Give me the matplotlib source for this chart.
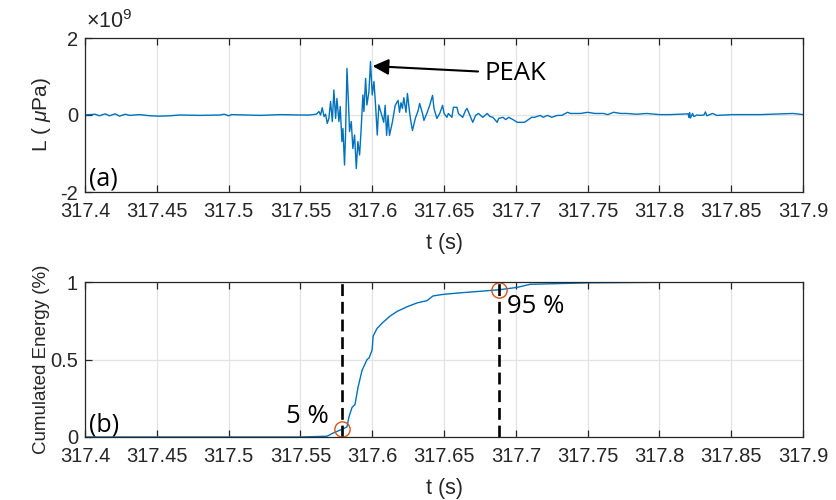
import numpy as np
import matplotlib
matplotlib.use('Agg')
import matplotlib.pyplot as plt
from matplotlib.ticker import FuncFormatter

plt.rcParams['font.family'] = ['Liberation Sans', 'DejaVu Sans']
plt.rcParams['mathtext.fontset'] = 'custom'
plt.rcParams['mathtext.rm'] = 'Liberation Sans'
plt.rcParams['mathtext.it'] = 'Liberation Sans:italic'

# pressure trace (a), amplitude in units of 1e9 uPa
t_sig = [317.400, 317.407, 317.410, 317.414, 317.417, 317.421, 317.424, 317.428, 317.431,
         317.438, 317.445, 317.452, 317.459, 317.466, 317.480, 317.494, 317.497, 317.500,
         317.502, 317.511, 317.522, 317.536, 317.550, 317.5564, 317.5610, 317.5629, 317.5640,
         317.5652, 317.5664, 317.5675, 317.5687, 317.5698, 317.5710, 317.5722, 317.5733,
         317.5745, 317.5754, 317.5768, 317.5777, 317.5789, 317.5796, 317.5807, 317.5814,
         317.5824, 317.5835, 317.5842, 317.5854, 317.5865, 317.5877, 317.5889, 317.5900,
         317.5912, 317.5923, 317.5935, 317.5942, 317.5954, 317.5963, 317.5977, 317.5988,
         317.6000, 317.6012, 317.6023, 317.6035, 317.6046,
         317.608, 317.609, 317.610, 317.611, 317.612, 317.614, 317.616,
         317.618, 317.619, 317.620, 317.621, 317.622, 317.6235, 317.6245, 317.626, 317.627,
         317.628, 317.630, 317.632, 317.633, 317.635, 317.636, 317.638, 317.640, 317.642,
         317.643, 317.645, 317.647, 317.649, 317.650, 317.652, 317.653, 317.6555, 317.6565,
         317.659, 317.660, 317.663, 317.665, 317.666, 317.668, 317.670, 317.672, 317.674,
         317.677, 317.680, 317.682, 317.684, 317.687, 317.688, 317.691, 317.693, 317.695,
         317.698, 317.701, 317.703, 317.706, 317.708, 317.711, 317.713, 317.717, 317.719,
         317.722, 317.725, 317.729, 317.732, 317.736, 317.738, 317.741, 317.745, 317.750,
         317.755, 317.761, 317.764, 317.768, 317.773, 317.777, 317.784, 317.791, 317.800,
         317.807, 317.814, 317.820, 317.8205, 317.821, 317.8215, 317.823, 317.824, 317.826,
         317.828, 317.831, 317.832, 317.833, 317.837, 317.840, 317.851, 317.870, 317.884,
         317.893, 317.900]
a_sig = [0.00, 0.02, -0.02, 0.03, -0.02, 0.03, -0.03, 0.02, -0.01,
         0.01, -0.02, -0.03, -0.02, 0.00, -0.01, 0.00, 0.02, -0.02,
         0.01, 0.00, -0.01, 0.01, 0.00, 0.00, 0.02, 0.09, 0.00,
         0.19, -0.04, 0.02, -0.22, -0.09, 0.35, -0.17, 0.65,
         -0.09, 0.43, -0.17, 0.22, -0.69, -0.35, -1.30, -0.52,
         1.21, 0.26, -0.43, -0.17, -0.87, -0.52, -1.39, -0.69,
         -1.04, -0.35, 0.52, 0.09, 0.95, 0.26, 0.61, 1.39,
         0.52, 0.87, 0.26, -0.52, 0.26,
         -0.19, 0.25, -0.53, -0.01, -0.53, -0.19, 0.25,
         0.38, 0.07, 0.32, 0.17, 0.45, 0.07, 0.56, 0.07, -0.19,
         -0.40, -0.09, 0.12, 0.30, 0.04, -0.14, 0.04, 0.25, 0.51,
         0.17, -0.09, 0.04, 0.25, 0.04, -0.06, 0.04, -0.06, 0.20,
         0.20, 0.04, -0.06, 0.12, 0.17, -0.01, -0.19, -0.01, 0.04,
         -0.06, 0.04, -0.04, -0.06, -0.19, -0.09, -0.06, -0.12, -0.06,
         -0.12, -0.19, -0.19, -0.19, -0.14, -0.06, -0.06, -0.01, -0.06,
         -0.01, -0.06, -0.01, -0.01, 0.07, 0.04, 0.04, 0.04, 0.07,
         0.04, 0.04, 0.01, 0.07, 0.04, 0.04, 0.02, 0.04, 0.01,
         0.01, 0.02, 0.03, -0.06, 0.06, -0.08, 0.04, -0.04, 0.00,
         -0.01, 0.00, 0.08, -0.02, 0.04, -0.01, 0.01, 0.01, 0.03,
         0.04, 0.01]

# cumulated energy (b)
t_en = [317.400, 317.550, 317.5685, 317.5727, 317.579, 317.5824, 317.5838, 317.5859, 317.588,
        317.5901, 317.5929, 317.5964, 317.5978, 317.5999, 317.6006, 317.6033, 317.6075,
        317.6124, 317.6173, 317.6242, 317.6312, 317.6382, 317.6423, 317.6493, 317.6611,
        317.6751, 317.6883, 317.7008, 317.7099, 317.7308, 317.7517, 317.8282, 317.900]
e_en = [0.0, 0.0, 0.005, 0.025, 0.05, 0.065, 0.13, 0.19, 0.21,
        0.32, 0.43, 0.50, 0.51, 0.56, 0.65, 0.70, 0.74,
        0.78, 0.81, 0.84, 0.865, 0.88, 0.91, 0.92, 0.93,
        0.94, 0.95, 0.965, 0.985, 0.99, 0.995, 1.0, 1.0]

t5, e5 = 317.579, 0.05
t95, e95 = 317.6883, 0.95
t_peak, a_peak = 317.5988, 1.39

xticks = [317.4, 317.45, 317.5, 317.55, 317.6, 317.65, 317.7, 317.75, 317.8, 317.85, 317.9]

blue = '#0072BD'
orange = '#D95319'
axcol = '#262626'
ann_font = ['Open Sans', 'DejaVu Sans']

fig = plt.figure(figsize=(8.36, 5.0), dpi=100)
ax1 = fig.add_axes([0.1017, 0.616, 0.8589, 0.308])
ax2 = fig.add_axes([0.1017, 0.126, 0.8589, 0.310])


def style(ax):
    ax.set_xlim(317.4, 317.9)
    ax.set_xticks(xticks)
    ax.xaxis.set_major_formatter(FuncFormatter(lambda v, p: '%g' % round(v, 3)))
    ax.grid(True, color='#e3e3e3', linewidth=0.9)
    ax.set_axisbelow(True)
    ax.tick_params(direction='in', length=5, width=0.9, color=axcol, labelsize=14.5,
                   top=True, right=False, labelcolor=axcol)
    ax.tick_params(axis='x', pad=7)
    ax.tick_params(axis='y', pad=5)
    for s in ax.spines.values():
        s.set_color(axcol)
        s.set_linewidth(0.9)
    ax.set_xlabel('t (s)', fontsize=15.5, color=axcol)
    ax.xaxis.set_label_coords(0.5, -0.335)
    ax.xaxis.label.set_va('center')
    ax.yaxis.set_label_coords(-0.061, 0.5)
    ax.yaxis.label.set_va('center')


ax1.plot(t_sig, np.array(a_sig) * 1e9, color=blue, lw=1.0)
style(ax1)
ax1.set_ylim(-2e9, 2e9)
ax1.set_yticks([-2e9, 0, 2e9])
ax1.yaxis.set_major_formatter(FuncFormatter(lambda v, p: '%g' % (v / 1e9)))
ax1.text(0.002, 1.03, r'$\times10^{9}$', transform=ax1.transAxes, fontsize=15.5,
         color=axcol, ha='left', va='bottom')
ax1.set_ylabel(r'L ( $\mu$Pa)', fontsize=15, color=axcol)
ax1.text(0.006, 0.0, '(a)', transform=ax1.transAxes, fontsize=18, color='black',
         family=ann_font, ha='left', va='bottom')
ax1.annotate('PEAK', xy=(t_peak + 0.0015, a_peak * 1e9 - 0.12e9),
             xytext=(317.6785, 1.08e9), fontsize=18.5, color='black',
             family=ann_font, va='center', ha='left',
             arrowprops=dict(arrowstyle='-|>', color='black', lw=1.5,
                             mutation_scale=24, shrinkA=3, shrinkB=0))

ax2.plot(t_en, e_en, color=blue, lw=1.0)
style(ax2)
ax2.set_ylim(0, 1)
ax2.set_yticks([0, 0.5, 1])
ax2.yaxis.set_major_formatter(FuncFormatter(lambda v, p: '%g' % v))
ax2.set_ylabel('Cumulated Energy (%)', fontsize=13.5, color=axcol)
ax2.axvline(t5, color='black', ls=(0, (4.5, 2.2)), lw=1.9)
ax2.axvline(t95, color='black', ls=(0, (4.5, 2.2)), lw=1.9)
ax2.plot([t5, t95], [e5, e95], 'o', ms=11, mfc='none', mec=orange, mew=1.0, clip_on=False)
ax2.text(t5 - 0.0095, 0.05, '5 %', fontsize=18.5, family=ann_font,
         ha='right', va='bottom', color='black')
ax2.text(t95 + 0.0055, 0.925, '95 %', fontsize=18.5, family=ann_font,
         ha='left', va='top', color='black')
ax2.text(0.006, 0.0, '(b)', transform=ax2.transAxes, fontsize=18, color='black',
         family=ann_font, ha='left', va='bottom')

fig.savefig('out.png', dpi=100)
